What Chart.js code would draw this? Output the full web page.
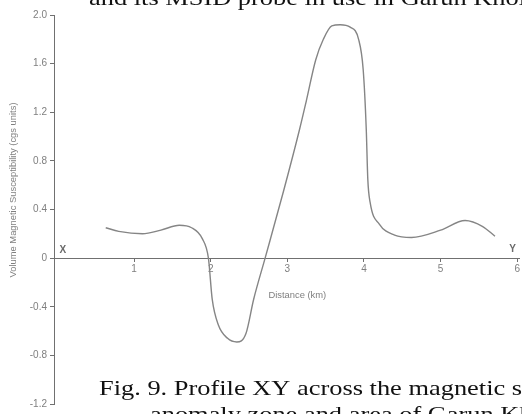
<!DOCTYPE html>
<html>
<head>
<meta charset="utf-8">
<script src="https://cdn.jsdelivr.net/npm/chart.js@4"></script>
<style>
  html, body { margin: 0; padding: 0; background: #fff; }
  #wrap { width: 522px; height: 414px; }
</style>
</head>
<body>
<div id="wrap"><canvas id="profileChart" width="522" height="414"></canvas></div>
<script>
// profile XY, distance along the line (km) vs volume magnetic susceptibility
const distanceKm = [0.63, 0.80, 1.11, 1.35, 1.59, 1.75, 1.89, 1.97, 2.02, 2.10, 2.22, 2.34, 2.46, 2.56,
    2.71, 2.95, 3.16, 3.25, 3.37, 3.47, 3.58, 3.69, 3.82, 3.93, 3.99, 4.03, 4.05, 4.08,
    4.20, 4.40, 4.62, 5.00, 5.32, 5.55, 5.71];
const susceptibility = [0.25, 0.22, 0.20, 0.23, 0.27, 0.25, 0.16, 0.00, -0.34, -0.55, -0.66, -0.69, -0.62, -0.34,
    0.00, 0.55, 1.06, 1.30, 1.63, 1.80, 1.91, 1.92, 1.90, 1.80, 1.55, 1.06, 0.65, 0.46,
    0.28, 0.19, 0.17, 0.23, 0.31, 0.26, 0.18];

const xTicks = [1, 2, 3, 4, 5, 6];
const yTicks = [-1.2, -0.8, -0.4, 0, 0.4, 0.8, 1.2, 1.6, 2.0];

const yTitle = "Volume Magnetic Susceptibility (cgs units)";
const xTitle = "Distance (km)";
const pageTop = "and its MSID probe in use in Garun Khola";
const captionLines = ["Fig. 9. Profile XY across the magnetic s", "anomaly zone and area of Garun Kh"];

const axisGrey = "#707070";
const labelGrey = "#7f7f7f";
const sans = "'Liberation Sans', Arial, sans-serif";

const extraText = {
    id: "extraText",
    afterDraw(chart) {
        const c = chart.ctx;
        const xs = chart.scales.x, ys = chart.scales.y;
        const zeroY = ys.getPixelForValue(0);
        c.save();

        // profile end letters
        c.fillStyle = "#6a6a6a";
        c.font = "bold 10px " + sans;
        c.textAlign = "center";
        c.textBaseline = "middle";
        c.fillText("X", xs.getPixelForValue(0.07), zeroY - 8);
        c.fillText("Y", xs.getPixelForValue(5.94), zeroY - 9);

        // axis titles
        c.fillStyle = labelGrey;
        c.font = "9.4px " + sans;
        c.fillText(xTitle, xs.getPixelForValue(3.13), zeroY + 37);
        c.save();
        c.translate(13, 190);
        c.rotate(-Math.PI / 2);
        c.fillText(yTitle, 0, 0);
        c.restore();

        // surrounding page text (scan is stretched sideways)
        c.fillStyle = "#111";
        c.font = "22px 'Liberation Serif', 'Times New Roman', serif";
        c.textAlign = "left";
        c.textBaseline = "alphabetic";
        const line = (txt, x, y) => {
            c.save();
            c.translate(x, y);
            c.scale(1.2, 1);
            c.fillText(txt, 0, 0);
            c.restore();
        };
        line(pageTop, 89, 5);
        line(captionLines[0], 99, 395);
        line(captionLines[1], 150, 421);
        c.restore();
    }
};

new Chart(document.getElementById("profileChart"), {
    type: "line",
    data: {
        datasets: [{
            data: distanceKm.map((d, i) => ({ x: d, y: susceptibility[i] })),
            borderColor: "#858585",
            borderWidth: 1.4,
            pointRadius: 0,
            fill: false,
            cubicInterpolationMode: "monotone"
        }]
    },
    options: {
        responsive: false,
        animation: false,
        layout: { padding: { top: 15, bottom: 10, left: 0, right: 0 } },
        plugins: {
            legend: { display: false },
            tooltip: { enabled: false }
        },
        scales: {
            x: {
                type: "linear",
                position: { y: 0 },
                min: -0.045,
                max: 6.026,
                afterFit: s => { s.height = 0; },
                afterBuildTicks: s => { s.ticks = xTicks.map(v => ({ value: v })); },
                grid: { drawOnChartArea: false, drawTicks: true, tickLength: 3, color: axisGrey },
                border: { color: axisGrey, width: 1 },
                ticks: {
                    color: labelGrey,
                    padding: 2,
                    font: { size: 10, family: sans }
                }
            },
            y: {
                type: "linear",
                position: "left",
                min: -1.2,
                max: 2.0,
                afterFit: s => { s.width = 54; },
                afterBuildTicks: s => { s.ticks = yTicks.map(v => ({ value: v })); },
                grid: { drawOnChartArea: false, drawTicks: true, tickLength: 4, color: axisGrey },
                border: { color: axisGrey, width: 1 },
                ticks: {
                    color: labelGrey,
                    padding: 3,
                    font: { size: 10, family: sans },
                    callback: v => v === 0 ? "0" : v.toFixed(1)
                }
            }
        }
    },
    plugins: [extraText]
});
</script>
</body>
</html>
